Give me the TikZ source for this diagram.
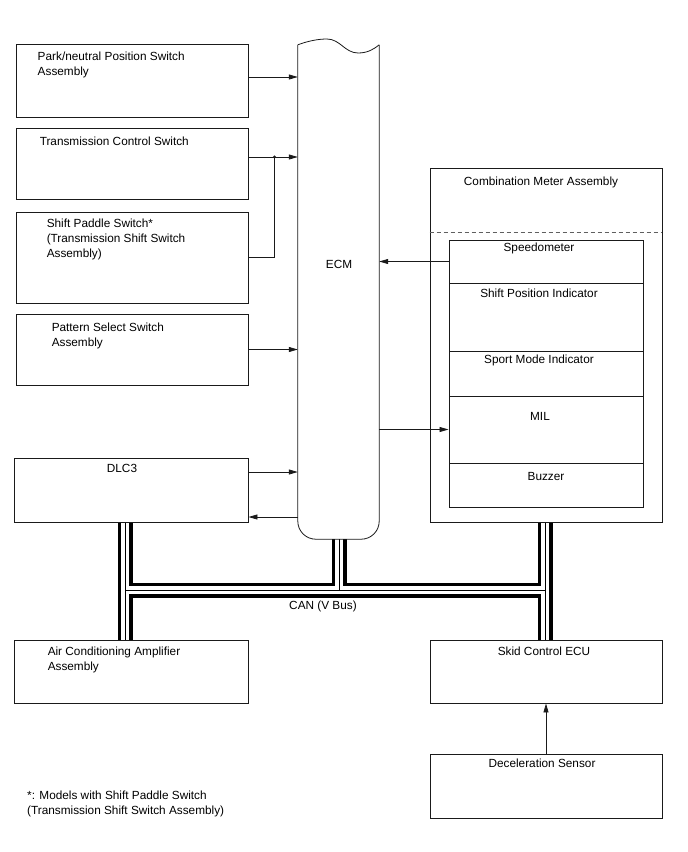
\documentclass[tikz,border=0pt]{standalone}
\usepackage{fontspec}
\setmainfont{Liberation Sans}
\usepackage{tikz}
\usetikzlibrary{arrows.meta,positioning,calc,backgrounds}
\definecolor{linecolor}{HTML}{1A1A1A}

\begin{document}
\begin{tikzpicture}[
    x=1pt, y=-1pt,
    unit/.style={draw=linecolor, line width=0.9pt, inner sep=0pt},
    txt/.style={font=\fontsize{11.8}{15}\selectfont, align=left, inner sep=0pt},
    arr/.style={-{Triangle[length=9pt, width=5pt]}, line width=0.8pt, linecolor},
    wire/.style={line width=0.8pt, linecolor}
]
\useasboundingbox (0,0) rectangle (688,852);

% Left column
\node[unit, minimum width=232, minimum height=73] (pnp)  at (132,80.5)  {};
\node[unit, minimum width=232, minimum height=71] (tcs)  at (132,163.5) {};
\node[unit, minimum width=232, minimum height=91] (sps)  at (132,257.5) {};
\node[unit, minimum width=232, minimum height=71] (pss)  at (132,349.5) {};
\node[unit, minimum width=234, minimum height=64] (dlc)  at (131,490)   {};
\node[unit, minimum width=234, minimum height=63] (ac)   at (131,671.5) {};

\node[txt, below right=8pt and 22pt of pnp.north west] {Park/neutral Position Switch\\Assembly};
\node[txt, below right=9pt and 24pt of tcs.north west] {Transmission Control Switch};
\node[txt, below right=7pt and 31pt of sps.north west] {Shift Paddle Switch*\\(Transmission Shift Switch\\Assembly)};
\node[txt, below right=9pt and 36pt of pss.north west] {Pattern Select Switch\\Assembly};
\node[txt] (dlclabel) at (122,468) {DLC3};
\node[txt, below right=7pt and 34pt of ac.north west] {Air Conditioning Amplifier\\Assembly};

% ECM
\node[inner sep=0pt, minimum width=81, minimum height=494] (ecm) at (338.5,292) {};
\draw[wire, rounded corners=18pt] (ecm.north west) -- (ecm.south west) -- (ecm.south east) -- (ecm.north east);
\draw[wire] (ecm.north west) .. controls (308,41) and (318,39) .. (327,39)
    .. controls (340,39) and (345,53) .. (358,53)
    .. controls (368,53) and (374,49) .. (ecm.north east);
\node[txt] (ecmlabel) at (339,264) {ECM};

% Combination meter
\node[unit, minimum width=232, minimum height=354] (comb)   at (546,345)   {};
\node[unit, minimum width=194, minimum height=43]  (speedo) at (546,261.5) {};
\node[unit, minimum width=194, minimum height=68]  (spi)    at (546,317)   {};
\node[unit, minimum width=194, minimum height=45]  (smi)    at (546,373.5) {};
\node[unit, minimum width=194, minimum height=67]  (mil)    at (546,429.5) {};
\node[unit, minimum width=194, minimum height=44]  (buzz)   at (546,485)   {};
\draw[linecolor!70, line width=0.8pt, dash pattern=on 4pt off 3pt]
    ([yshift=-65pt]comb.north west) -- ([yshift=-65pt]comb.north east);

\node[txt] at (541,182) {Combination Meter Assembly};
\node[txt] at (539,248) {Speedometer};
\node[txt] at (539,293) {Shift Position Indicator};
\node[txt] at (539,360) {Sport Mode Indicator};
\node[txt] at (540,416) {MIL};
\node[txt] at (546,476) {Buzzer};

% Right bottom
\node[unit, minimum width=232, minimum height=63] (skid)  at (546,671.5) {};
\node[unit, minimum width=232, minimum height=64] (decel) at (546,786)   {};
\node[txt] at (544,651) {Skid Control ECU};
\node[txt] at (542,763) {Deceleration Sensor};

% Arrows
\coordinate (pnpout) at ([yshift=3.5pt]pnp.east);
\coordinate (tcsout) at ([yshift=6.5pt]tcs.east);
\coordinate (tjoin) at ($(tcsout)+(26,0)$);
\draw[arr] (pnpout) -- (pnpout -| ecm.west);
\draw[arr] (tcsout) -- (tcsout -| ecm.west);
\draw[wire] (sps.east) -- (sps.east -| tjoin) -- (tjoin);
\fill[linecolor] (tjoin) circle (1.6pt);
\draw[arr] (pss.east) -- (pss.east -| ecm.west);
\coordinate (dlcout) at ([yshift=18pt]dlc.east);
\coordinate (dlcin) at ([yshift=-27pt]dlc.east);
\draw[arr] (dlcout) -- (dlcout -| ecm.west);
\draw[arr] (dlcin -| ecm.west) -- (dlcin);
\draw[arr] (speedo.west) -- (speedo.west -| ecm.east);
\draw[arr] (mil.west -| ecm.east) -- (mil.west);
\draw[arr] (decel.north) -- (skid.south);

% CAN bus
\coordinate (canl) at (125,590);
\coordinate (canm) at (339,590);
\coordinate (canr) at (545,590);
\begin{pgfonlayer}{background}
\foreach \w/\c in {15/black, 8.5/white, 1/black} {
  \draw[line width=\w pt, draw=\c] (dlc.south -| canl) -- (ac.north -| canl);
  \draw[line width=\w pt, draw=\c] (comb.south -| canr) -- (skid.north -| canr);
  \draw[line width=\w pt, draw=\c] (ecm.south -| canm) -- (canm);
  \draw[line width=\w pt, draw=\c] (canl) -- (canr);
}
\end{pgfonlayer}
\node[txt] (canlabel) at (323,606) {CAN (V Bus)};

% Footnote
\node[txt, anchor=north west] (note) at (27,791) {*: Models with Shift Paddle Switch\\(Transmission Shift Switch Assembly)};

\end{tikzpicture}
\end{document}
